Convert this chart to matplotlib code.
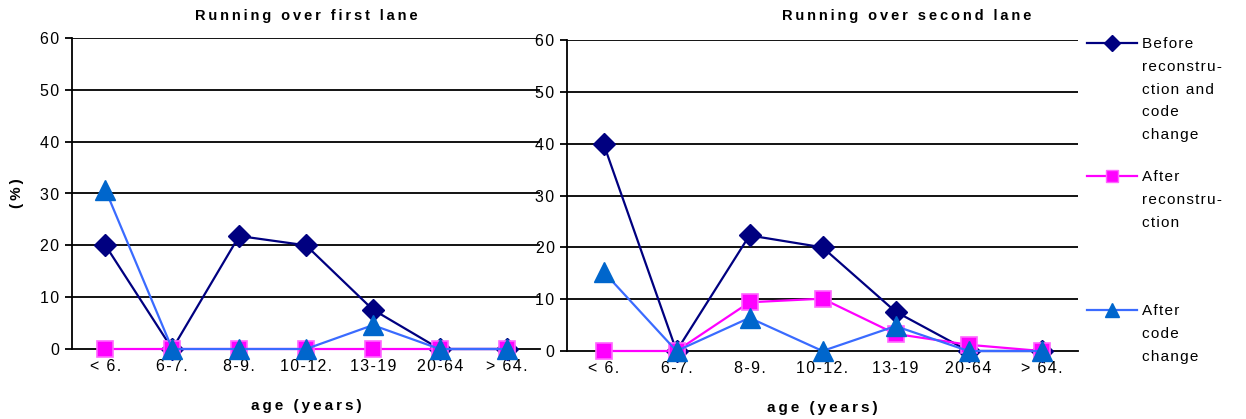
import matplotlib
matplotlib.use("Agg")
import matplotlib.pyplot as plt
from matplotlib.lines import Line2D

plt.rcParams['font.family'] = ['Liberation Sans', 'DejaVu Sans']

age_groups = ["< 6.", "6-7.", "8-9.", "10-12.", "13-19", "20-64", "> 64."]

first_before = [20.0, 0.0, 21.8, 20.0, 7.6, 0.0, 0.0]
first_after_recon = [0.0, 0.0, 0.0, 0.0, 0.0, 0.0, 0.0]
first_after_code = [30.7, 0.0, 0.0, 0.0, 4.6, 0.0, 0.0]

second_before = [40.0, 0.0, 22.3, 20.0, 7.6, 0.0, 0.0]
second_after_recon = [0.0, 0.0, 9.4, 10.1, 3.3, 1.2, 0.0]
second_after_code = [15.3, 0.0, 6.4, 0.0, 4.8, 0.0, 0.0]

series_labels = ["Before\nreconstru-\nction and\ncode\nchange",
                 "After\nreconstru-\nction",
                 "After\ncode\nchange"]

NAVY = "#000080"
MAGENTA = "#FF00FF"
BLUE_LINE = "#3A6BFF"
BLUE_MARK = "#0066CC"

THIN = "\u2009"
HAIR = "\u200a"


def spaced(text, gap=THIN):
    """Widen the tracking of a label by putting narrow spaces between letters."""
    return "\n".join(gap.join(line) for line in text.split("\n"))


styles = [
    dict(color=NAVY, marker="D", markersize=11, markerfacecolor=NAVY,
         markeredgecolor=NAVY, linewidth=1.6),
    dict(color=MAGENTA, marker="s", markersize=11, markerfacecolor=MAGENTA,
         markeredgecolor="#FF66FF", markeredgewidth=1.2, linewidth=1.6),
    dict(color=BLUE_LINE, marker="^", markersize=14, markerfacecolor=BLUE_MARK,
         markeredgecolor=BLUE_MARK, linewidth=1.6),
]

fig = plt.figure(figsize=(12.46, 4.19), dpi=100)
ax1 = fig.add_axes([72 / 1246, 1 - 349 / 419, 468 / 1246, 311 / 419])
ax2 = fig.add_axes([567 / 1246, 1 - 351 / 419, 511 / 1246, 311 / 419])

panels = [
    (ax1, "Running over first lane", [first_before, first_after_recon, first_after_code]),
    (ax2, "Running over second lane", [second_before, second_after_recon, second_after_code]),
]

x = range(len(age_groups))
for ax, title, data in panels:
    for vals, st in zip(data, styles):
        ax.plot(x, vals, clip_on=False, zorder=3, **st)
    ax.set_xlim(-0.5, len(age_groups) - 0.5)
    ax.set_ylim(0, 60)
    yt = list(range(0, 61, 10))
    ax.set_yticks(yt)
    ax.set_yticklabels([spaced(str(v), HAIR) for v in yt])
    ax.set_xticks(list(x))
    ax.set_xticklabels([spaced(a, HAIR) for a in age_groups])
    for yv in range(10, 61, 10):
        ax.axhline(yv, color="black", linewidth=1.3, zorder=1)
    for side in ("top", "right"):
        ax.spines[side].set_visible(False)
    for side in ("left", "bottom"):
        ax.spines[side].set_linewidth(1.3)
    ax.tick_params(axis="y", length=5, width=1.3, labelsize=11.5, pad=4)
    ax.tick_params(axis="x", length=0, labelsize=11.5, pad=7)
    ax.set_xlabel(spaced("age (years)"), fontsize=11, fontweight="bold", labelpad=18)

ax1.set_title(spaced(panels[0][1]), fontsize=10.5, fontweight="bold", pad=13)
# the second title is centred over the plot and legend column together
fig.text(907 / 1246, 1 - 16 / 419, spaced(panels[1][1]), fontsize=10.5,
         fontweight="bold", ha="center", va="center")

ax1.set_ylabel(spaced("(%)"), fontsize=11, fontweight="bold", labelpad=12)

# legend column at the right edge
legend_y = [43, 176, 310]
for st, label, ly in zip(styles, series_labels, legend_y):
    yf = 1 - ly / 419
    line = Line2D([1087 / 1246, 1137 / 1246], [yf, yf], transform=fig.transFigure,
                  color=st["color"], linewidth=st["linewidth"])
    fig.add_artist(line)
    mk = Line2D([1112 / 1246], [yf], transform=fig.transFigure, linestyle="none",
                marker=st["marker"], markersize=st["markersize"] * 0.75,
                markerfacecolor=st["markerfacecolor"], markeredgecolor=st["markeredgecolor"])
    fig.add_artist(mk)
    fig.text(1142 / 1246, yf + 6 / 419, spaced(label, HAIR), fontsize=11,
             va="top", ha="left", linespacing=1.8)

fig.savefig("out.png", dpi=100)
